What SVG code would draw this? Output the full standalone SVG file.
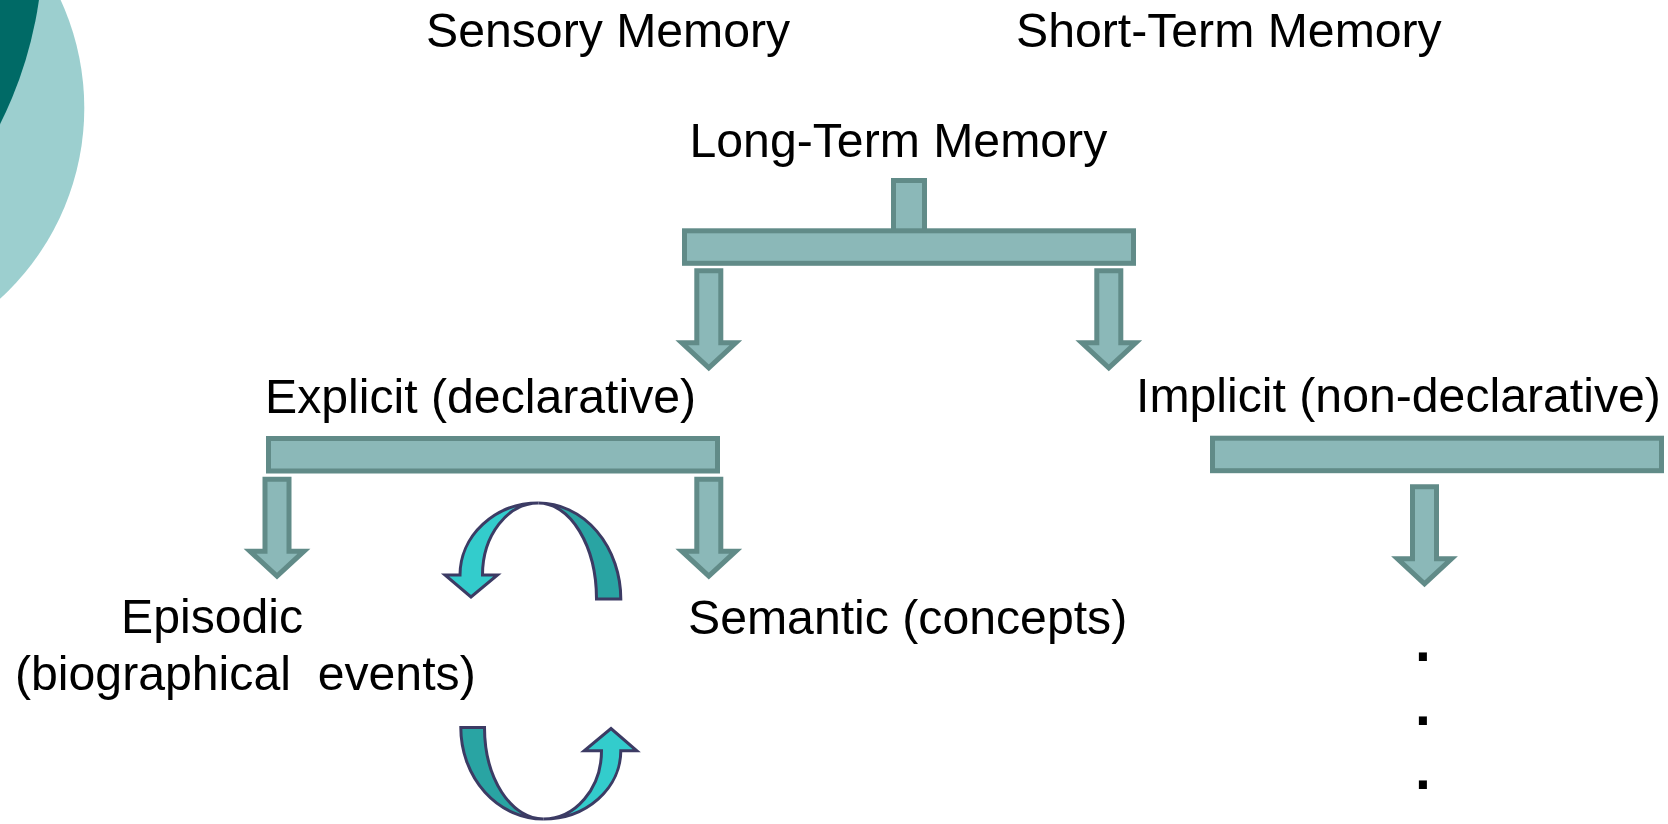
<svg xmlns="http://www.w3.org/2000/svg" xmlns:xlink="http://www.w3.org/1999/xlink" width="1668" height="824" viewBox="0 0 1668 824">
  <style>
    .lbl { font-family: "Liberation Sans", Arial, sans-serif; font-size: 48.2px; fill: #000; }
    .dot { font-family: "Liberation Sans", Arial, sans-serif; font-size: 57px; font-weight: bold; fill: #000; }
    .blk { fill: #8bb8b8; stroke: #618b88; stroke-width: 5; stroke-linejoin: miter; }
    .cd { fill: #29a4a3; stroke: #3c3b64; stroke-width: 3; stroke-linejoin: miter; }
    .cl { fill: #33cccc; stroke: #3c3b64; stroke-width: 3; stroke-linejoin: miter; }
  </style>
  <defs>
    <path id="darrow" d="M-12,0 H12 V72 H27 L0,97 L-27,72 H-12 Z"/>
  </defs>
  <rect width="1668" height="824" fill="#ffffff"/>

  <g id="background">
    <circle cx="-173.7" cy="108" r="258" fill="#9ccfcf"/>
    <circle cx="-360" cy="-57" r="403" fill="#006a66"/>
  </g>

  <g id="sensory-memory"><text class="lbl" x="426" y="47">Sensory Memory</text></g>
  <g id="short-term-memory"><text class="lbl" x="1016" y="47">Short-Term Memory</text></g>
  <g id="long-term-memory"><text class="lbl" x="689.5" y="156.5">Long-Term Memory</text></g>
  <g id="explicit"><text class="lbl" x="265" y="413">Explicit (declarative)</text></g>
  <g id="implicit"><text class="lbl" x="1136" y="412">Implicit (non-declarative)</text></g>
  <g id="episodic">
    <text class="lbl" x="121" y="633.3">Episodic</text>
    <text class="lbl" x="15" y="690" xml:space="preserve">(biographical  events)</text>
  </g>
  <g id="semantic"><text class="lbl" x="688" y="634">Semantic (concepts)</text></g>
  <g id="implicit-items">
    <text class="dot" x="1415" y="661">.</text>
    <text class="dot" x="1415" y="725">.</text>
    <text class="dot" x="1415" y="789">.</text>
  </g>

  <g id="connectors">
    <rect class="blk" x="893.5" y="180.5" width="31" height="52"/>
    <rect class="blk" x="684.5" y="230.8" width="449" height="32.5"/>
    <use xlink:href="#darrow" class="blk" x="708.8" y="270.8"/>
    <use xlink:href="#darrow" class="blk" x="1108.8" y="270.8"/>

    <rect class="blk" x="268.5" y="438.5" width="449" height="32.5"/>
    <use xlink:href="#darrow" class="blk" x="277" y="479.2"/>
    <use xlink:href="#darrow" class="blk" x="708.8" y="479.2"/>

    <rect class="blk" x="1212.5" y="438.2" width="449" height="32.5"/>
    <use xlink:href="#darrow" class="blk" x="1424.5" y="486.8"/>

    <path class="cd" d="M620.8,599 A82.3,96 0 0 0 538.5,503 A58,96 0 0 1 596.5,599 Z"/>
    <path class="cl" d="M538.5,503 A78.5,72 0 0 0 460,575 H445 L471,597 L497.5,575 H482.5 A56,72 0 0 1 538.5,503 Z"/>

    <path class="cd" d="M460.8,727.5 A82.5,91.5 0 0 0 543.3,819 A58.8,91.5 0 0 1 484.5,727.5 Z"/>
    <path class="cl" d="M543.3,819 A77.5,68.2 0 0 0 620.8,750.8 H636.8 L611,728.5 L584.2,750.8 H601.5 A58.2,68.2 0 0 1 543.3,819 Z"/>
  </g>
</svg>
